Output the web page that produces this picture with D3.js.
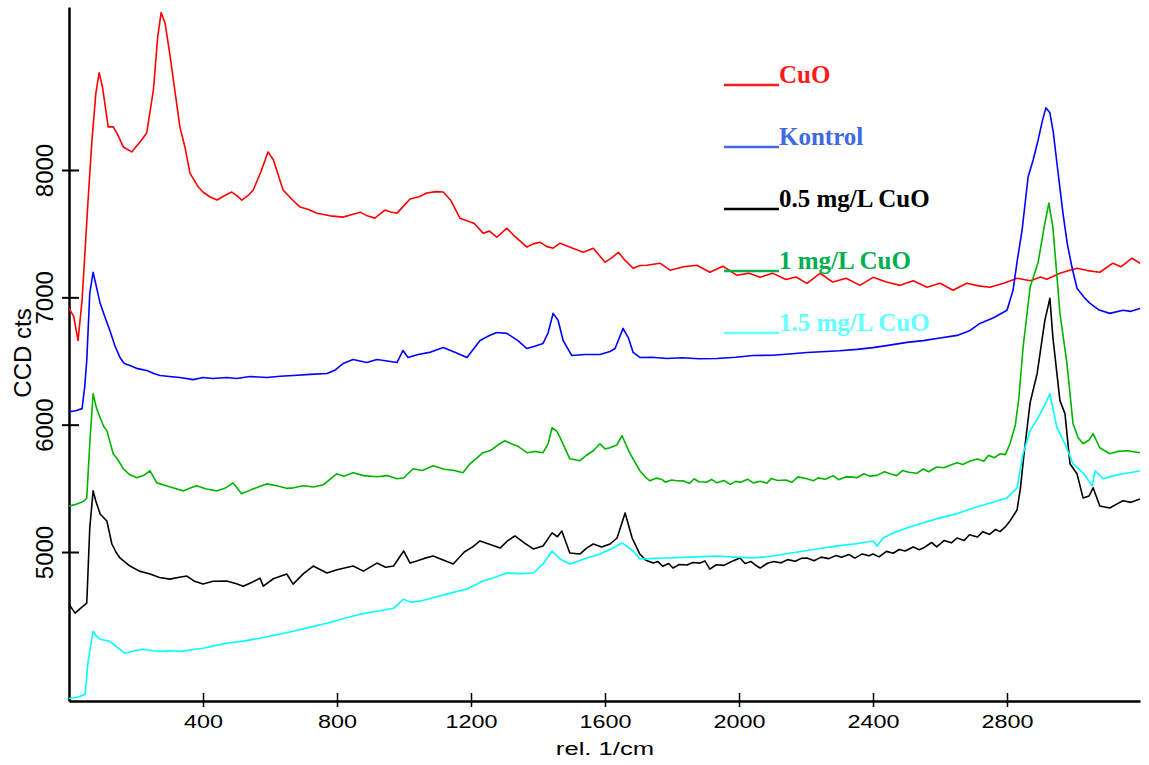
<!DOCTYPE html>
<html>
<head>
<meta charset="utf-8">
<script src="https://cdn.jsdelivr.net/npm/d3@7"></script>
<style>
  body { margin: 0; background: #fff; }
  svg { display: block; }
</style>
</head>
<body>
<script>
(function() {
// Raman spectra: [rel. 1/cm, CCD cts]
const cuo = [[0,6913],[14,6850],[27,6661],[39,6976],[48,7370],[57,7764],[68,8213],[80,8600],[90,8764],[100,8650],[117,8339],[132,8339],[145,8280],[162,8181],[187,8142],[212,8220],[232,8291],[252,8630],[265,9050],[275,9236],[287,9150],[302,8890],[331,8339],[346,8181],[361,7976],[386,7866],[400,7827],[420,7790],[442,7764],[465,7800],[486,7827],[500,7800],[516,7764],[535,7800],[550,7843],[572,7980],[594,8142],[610,8080],[639,7843],[665,7770],[690,7709],[715,7690],[740,7661],[780,7640],[818,7630],[845,7650],[869,7669],[890,7640],[913,7622],[943,7685],[960,7670],[979,7661],[1000,7720],[1018,7772],[1045,7790],[1068,7819],[1095,7830],[1117,7827],[1140,7760],[1167,7622],[1190,7600],[1210,7580],[1236,7504],[1255,7520],[1277,7472],[1307,7543],[1330,7480],[1367,7394],[1385,7420],[1406,7433],[1425,7400],[1445,7386],[1466,7425],[1500,7390],[1535,7354],[1565,7386],[1600,7276],[1620,7310],[1640,7354],[1660,7290],[1684,7228],[1705,7250],[1725,7252],[1764,7268],[1794,7213],[1835,7240],[1874,7252],[1913,7197],[1952,7244],[1994,7173],[2030,7190],[2063,7157],[2100,7190],[2140,7140],[2170,7160],[2203,7110],[2242,7189],[2280,7120],[2320,7150],[2361,7094],[2400,7157],[2440,7120],[2481,7094],[2520,7130],[2561,7079],[2600,7110],[2639,7055],[2680,7110],[2715,7090],[2749,7079],[2790,7110],[2830,7150],[2870,7130],[2900,7160],[2919,7142],[2958,7189],[2985,7210],[3009,7228],[3040,7210],[3077,7197],[3116,7268],[3140,7240],[3173,7307],[3197,7268]];

const kontrol = [[0,6102],[20,6110],[39,6126],[47,6300],[53,6504],[62,7031],[72,7197],[82,7080],[93,6953],[108,6840],[122,6740],[137,6620],[152,6528],[165,6480],[182,6465],[205,6440],[232,6425],[255,6400],[272,6386],[300,6378],[331,6370],[371,6354],[400,6370],[430,6362],[471,6370],[501,6362],[540,6378],[591,6370],[630,6380],[670,6386],[720,6395],[770,6402],[795,6430],[818,6480],[848,6512],[889,6488],[919,6512],[950,6500],[979,6488],[997,6583],[1012,6528],[1042,6551],[1080,6570],[1117,6606],[1150,6570],[1188,6528],[1227,6661],[1255,6700],[1277,6724],[1307,6717],[1340,6660],[1367,6598],[1395,6620],[1415,6638],[1430,6720],[1445,6874],[1460,6820],[1475,6661],[1501,6543],[1540,6551],[1585,6551],[1615,6575],[1630,6598],[1654,6756],[1670,6680],[1684,6567],[1704,6528],[1740,6530],[1785,6520],[1830,6525],[1880,6518],[1934,6520],[1990,6530],[2042,6543],[2100,6545],[2150,6555],[2203,6567],[2260,6575],[2300,6580],[2352,6591],[2400,6605],[2450,6625],[2501,6646],[2550,6660],[2600,6680],[2651,6701],[2690,6740],[2719,6795],[2760,6840],[2800,6898],[2818,7055],[2830,7279],[2845,7528],[2863,7945],[2878,8079],[2893,8236],[2905,8380],[2916,8488],[2928,8449],[2938,8300],[2949,8055],[2967,7661],[2980,7420],[2994,7236],[3009,7071],[3030,7000],[3048,6953],[3075,6900],[3107,6874],[3146,6898],[3170,6890],[3197,6913]];

const cuo05 = [[0,4591],[18,4520],[35,4560],[53,4598],[62,5189],[72,5480],[80,5400],[93,5299],[113,5244],[128,5063],[140,5000],[152,4953],[182,4890],[210,4850],[242,4827],[270,4800],[301,4787],[325,4800],[352,4811],[375,4770],[400,4748],[430,4770],[471,4772],[500,4750],[520,4732],[545,4760],[570,4795],[580,4732],[610,4790],[650,4827],[669,4748],[700,4830],[729,4890],[770,4835],[800,4860],[848,4890],[879,4850],[919,4913],[945,4880],[969,4890],[999,5008],[1018,4913],[1038,4929],[1060,4950],[1087,4969],[1115,4940],[1147,4906],[1180,5000],[1205,5040],[1227,5087],[1255,5060],[1287,5031],[1310,5090],[1331,5126],[1360,5070],[1386,5024],[1415,5047],[1442,5150],[1458,5120],[1471,5165],[1495,4992],[1525,4984],[1545,5030],[1565,5063],[1590,5040],[1615,5063],[1636,5110],[1660,5307],[1681,5110],[1704,4984],[1722,4935],[1744,4913],[1758,4925],[1772,4888],[1790,4910],[1803,4874],[1822,4902],[1845,4898],[1862,4918],[1884,4913],[1898,4930],[1913,4866],[1932,4900],[1955,4895],[1978,4925],[2003,4953],[2018,4910],[2036,4925],[2053,4890],[2063,4874],[2085,4912],[2104,4925],[2126,4915],[2145,4940],[2168,4928],[2186,4950],[2203,4953],[2224,4932],[2245,4960],[2268,4948],[2290,4972],[2306,4958],[2328,4980],[2346,4952],[2368,4985],[2388,4970],[2400,4984],[2418,4962],[2440,5005],[2460,4990],[2478,5020],[2496,5008],[2520,5040],[2538,5018],[2550,5031],[2575,5075],[2590,5040],[2612,5090],[2634,5072],[2651,5110],[2672,5090],[2688,5135],[2712,5118],[2728,5160],[2748,5138],[2766,5178],[2779,5160],[2794,5195],[2809,5244],[2830,5330],[2840,5500],[2850,5750],[2869,6173],[2890,6402],[2913,6819],[2928,6992],[2937,6685],[2958,6189],[2973,6087],[2988,5693],[3009,5614],[3027,5425],[3045,5440],[3057,5504],[3077,5362],[3107,5346],[3130,5380],[3146,5402],[3170,5390],[3197,5417]];

const cuo1 = [[0,5362],[15,5370],[33,5386],[45,5400],[53,5425],[62,5850],[72,6244],[82,6130],[93,6055],[103,5990],[113,5953],[132,5772],[147,5720],[162,5654],[180,5610],[202,5583],[222,5600],[242,5638],[262,5543],[290,5520],[315,5500],[341,5480],[360,5500],[381,5520],[410,5495],[441,5480],[465,5500],[490,5543],[515,5457],[545,5490],[565,5510],[590,5535],[620,5520],[650,5500],[670,5504],[700,5520],[730,5510],[759,5528],[799,5614],[820,5595],[848,5622],[880,5600],[919,5591],[950,5600],[979,5575],[1000,5583],[1027,5654],[1055,5640],[1087,5677],[1120,5650],[1150,5640],[1176,5622],[1197,5693],[1236,5780],[1260,5800],[1280,5840],[1301,5874],[1320,5850],[1337,5835],[1367,5780],[1390,5790],[1415,5780],[1430,5850],[1442,5976],[1456,5950],[1466,5898],[1495,5732],[1525,5717],[1545,5760],[1565,5795],[1585,5850],[1600,5810],[1615,5819],[1635,5840],[1651,5913],[1663,5840],[1675,5772],[1704,5638],[1722,5585],[1734,5559],[1752,5580],[1768,5572],[1781,5548],[1798,5566],[1815,5560],[1833,5559],[1852,5538],[1866,5575],[1880,5552],[1903,5548],[1918,5570],[1934,5543],[1955,5562],[1974,5531],[1990,5555],[2005,5548],[2026,5572],[2042,5543],[2064,5556],[2083,5540],[2097,5578],[2115,5562],[2140,5566],[2158,5548],[2176,5590],[2203,5575],[2222,5560],[2236,5582],[2258,5571],[2281,5600],[2297,5568],[2318,5590],[2339,5588],[2352,5583],[2373,5615],[2390,5596],[2412,5602],[2434,5630],[2451,5614],[2470,5600],[2488,5640],[2507,5626],[2530,5618],[2550,5652],[2566,5630],[2590,5668],[2612,5662],[2628,5680],[2651,5701],[2668,5688],[2690,5715],[2712,5730],[2731,5712],[2745,5760],[2762,5740],[2780,5772],[2795,5765],[2809,5850],[2825,6000],[2835,6200],[2848,6606],[2869,7079],[2893,7276],[2913,7583],[2925,7740],[2937,7551],[2948,7200],[2958,6874],[2979,6480],[2997,6008],[3012,5900],[3027,5850],[3045,5880],[3057,5929],[3077,5819],[3107,5772],[3130,5790],[3158,5795],[3197,5780]];

const cuo15 = [[0,3850],[25,3860],[48,3882],[57,4142],[72,4378],[82,4340],[93,4315],[122,4299],[145,4250],[167,4205],[195,4225],[221,4236],[250,4225],[272,4220],[300,4225],[337,4220],[370,4235],[400,4244],[435,4265],[471,4283],[520,4300],[570,4323],[620,4350],[669,4378],[720,4410],[770,4441],[820,4478],[869,4512],[920,4535],[969,4559],[999,4630],[1020,4605],[1048,4614],[1100,4650],[1150,4685],[1188,4709],[1236,4772],[1270,4800],[1307,4835],[1350,4830],[1386,4835],[1415,4906],[1442,5008],[1466,4945],[1495,4906],[1546,4953],[1585,4984],[1624,5031],[1651,5071],[1684,5008],[1704,4945],[1750,4950],[1785,4953],[1850,4960],[1934,4969],[1990,4960],[2042,4953],[2102,4969],[2150,4990],[2200,5010],[2251,5031],[2300,5050],[2350,5065],[2400,5087],[2412,5047],[2430,5110],[2460,5150],[2501,5189],[2550,5230],[2600,5268],[2650,5300],[2699,5346],[2750,5385],[2800,5425],[2830,5504],[2848,5772],[2869,5953],[2893,6055],[2919,6189],[2928,6244],[2949,5976],[2973,5850],[2997,5693],[3027,5622],[3054,5520],[3063,5638],[3087,5575],[3120,5600],[3146,5614],[3170,5625],[3197,5638]];

const seriesNames = ["CuO", "Kontrol", "0.5 mg/L CuO", "1 mg/L CuO", "1.5 mg/L CuO"];
const xTicks = [400, 800, 1200, 1600, 2000, 2400, 2800];
const yTicks = [5000, 6000, 7000, 8000];

const series = [
    { name: seriesNames[0], values: cuo, color: "#ff0000", legendColor: "#ff1a1a" },
    { name: seriesNames[1], values: kontrol, color: "#0000ff", legendColor: "#4169e1" },
    { name: seriesNames[2], values: cuo05, color: "#000000", legendColor: "#000000" },
    { name: seriesNames[3], values: cuo1, color: "#00b400", legendColor: "#00b050" },
    { name: seriesNames[4], values: cuo15, color: "#00ffff", legendColor: "#66ffff" }
];

const width = 1149;
const height = 765;
const margin = { top: 7, right: 9, bottom: 64, left: 69 };

const svg = d3.select("body")
    .append("svg")
    .attr("width", width)
    .attr("height", height);

const x = d3.scaleLinear().domain([0, 3197]).range([margin.left, width - margin.right]);
const y = d3.scaleLinear().domain([3830, 9280]).range([height - margin.bottom, margin.top]);

// X axis
const xAxis = svg.append("g")
    .attr("transform", "translate(0," + (height - margin.bottom) + ")")
    .call(d3.axisBottom(x).tickValues(xTicks).tickSizeOuter(0).tickFormat(d3.format("d")));
xAxis.select(".domain").attr("stroke", "#000").attr("stroke-width", 2.5);
xAxis.selectAll(".tick line").attr("y1", -8).attr("y2", 6).attr("stroke-width", 1.5);
xAxis.selectAll(".tick text")
    .attr("y", 0).attr("dy", 0)
    .attr("transform", "translate(0,27) scale(1.3,1)")
    .attr("text-anchor", "middle")
    .style("font-family", "'Liberation Sans', Arial, sans-serif")
    .style("font-size", "18px")
    .attr("fill", "#000");

// Y axis
const yAxis = svg.append("g")
    .attr("transform", "translate(" + margin.left + ",0)")
    .call(d3.axisLeft(y).tickValues(yTicks).tickSizeOuter(0).tickFormat(d3.format("d")));
yAxis.select(".domain").attr("stroke", "#000").attr("stroke-width", 2.5);
yAxis.selectAll(".tick line").attr("x1", 10).attr("x2", -7).attr("stroke-width", 2);
yAxis.selectAll(".tick text")
    .attr("transform", "rotate(-90)")
    .attr("x", 0).attr("y", -16).attr("dy", 0)
    .attr("text-anchor", "middle")
    .style("font-family", "'Liberation Sans', Arial, sans-serif")
    .style("font-size", "24px")
    .attr("fill", "#000");

// Axis titles
svg.append("text")
    .attr("transform", "translate(605,755) scale(1.35,1)")
    .attr("text-anchor", "middle")
    .style("font-family", "'Liberation Sans', Arial, sans-serif")
    .style("font-size", "19px")
    .text("rel. 1/cm");

svg.append("text")
    .attr("transform", "translate(31,353) rotate(-90)")
    .attr("text-anchor", "middle")
    .style("font-family", "'Liberation Sans', Arial, sans-serif")
    .style("font-size", "24px")
    .text("CCD cts");

// Spectra
const line = d3.line()
    .x(d => x(d[0]))
    .y(d => y(d[1]));

svg.append("g")
    .selectAll("path")
    .data(series)
    .enter().append("path")
    .attr("d", d => line(d.values))
    .attr("fill", "none")
    .attr("stroke", d => d.color)
    .attr("stroke-width", 1.6)
    .attr("stroke-linejoin", "round");

// Legend
const legend = svg.append("g")
    .selectAll("g")
    .data(series)
    .enter().append("g")
    .attr("transform", (d, i) => "translate(724," + (85 + i * 62) + ")");

legend.append("line")
    .attr("x1", 0).attr("x2", 55)
    .attr("y1", 0).attr("y2", 0)
    .attr("stroke", d => d.legendColor)
    .attr("stroke-width", 2.5);

legend.append("text")
    .attr("x", 55)
    .attr("y", -2)
    .style("font-family", "'Liberation Serif', 'Times New Roman', serif")
    .style("font-weight", "bold")
    .style("font-size", "25px")
    .attr("fill", d => d.legendColor)
    .text(d => d.name);
})();
</script>
</body>
</html>
